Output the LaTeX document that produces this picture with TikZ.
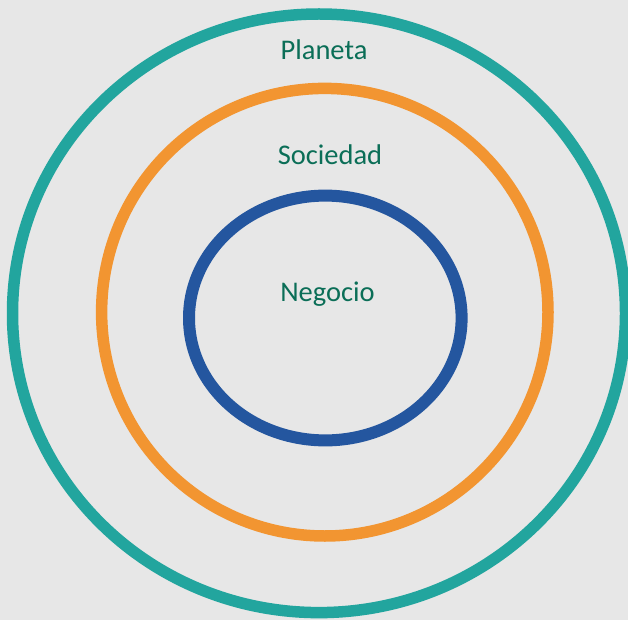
\documentclass[tikz,border=0pt]{standalone}
\usepackage{fontspec}
\setmainfont{Carlito}
\usepackage{xcolor}
\usepackage{tikz}
\usetikzlibrary{shapes.geometric, positioning}
\definecolor{backgray}{HTML}{E7E7E7}
\definecolor{planetteal}{HTML}{22A59E}
\definecolor{societyorange}{HTML}{F29531}
\definecolor{businessblue}{HTML}{24569F}
\definecolor{labelgreen}{HTML}{0B6E57}

\begin{document}
\begin{tikzpicture}
  [
    x=1pt, y=-1pt,
    Ring/.style={ellipse, line width=11.5pt, inner sep=0pt, outer sep=0pt},
    Teal/.style={Ring, draw=planetteal, minimum width=613pt, minimum height=598.6pt},
    Orange/.style={Ring, draw=societyorange, minimum width=446.4pt, minimum height=447.6pt},
    Blue/.style={Ring, draw=businessblue, line width=12pt, minimum width=272.6pt, minimum height=244.8pt},
    Label/.style={anchor=base, inner sep=0pt, text=labelgreen, font=\fontsize{28.5}{30}\selectfont}
  ]
  % Background
  \fill[backgray] (0,0) rectangle (628,620);
  \useasboundingbox (0,0) rectangle (628,620);

  % Rings
  \node[Teal] (planeta) at (319,313.3) {};
  \node[Orange] (sociedad) at (324.8,312.2) {};
  \node[Blue] (negocio) at (325.3,318) {};

  % Labels
  \node[Label] (tplaneta) at (324,60) {Planeta};
  \node[Label] (tsociedad) at (330,165) {Sociedad};
  \node[Label] (tnegocio) at (327.5,301.7) {Negocio};
\end{tikzpicture}
\end{document}
